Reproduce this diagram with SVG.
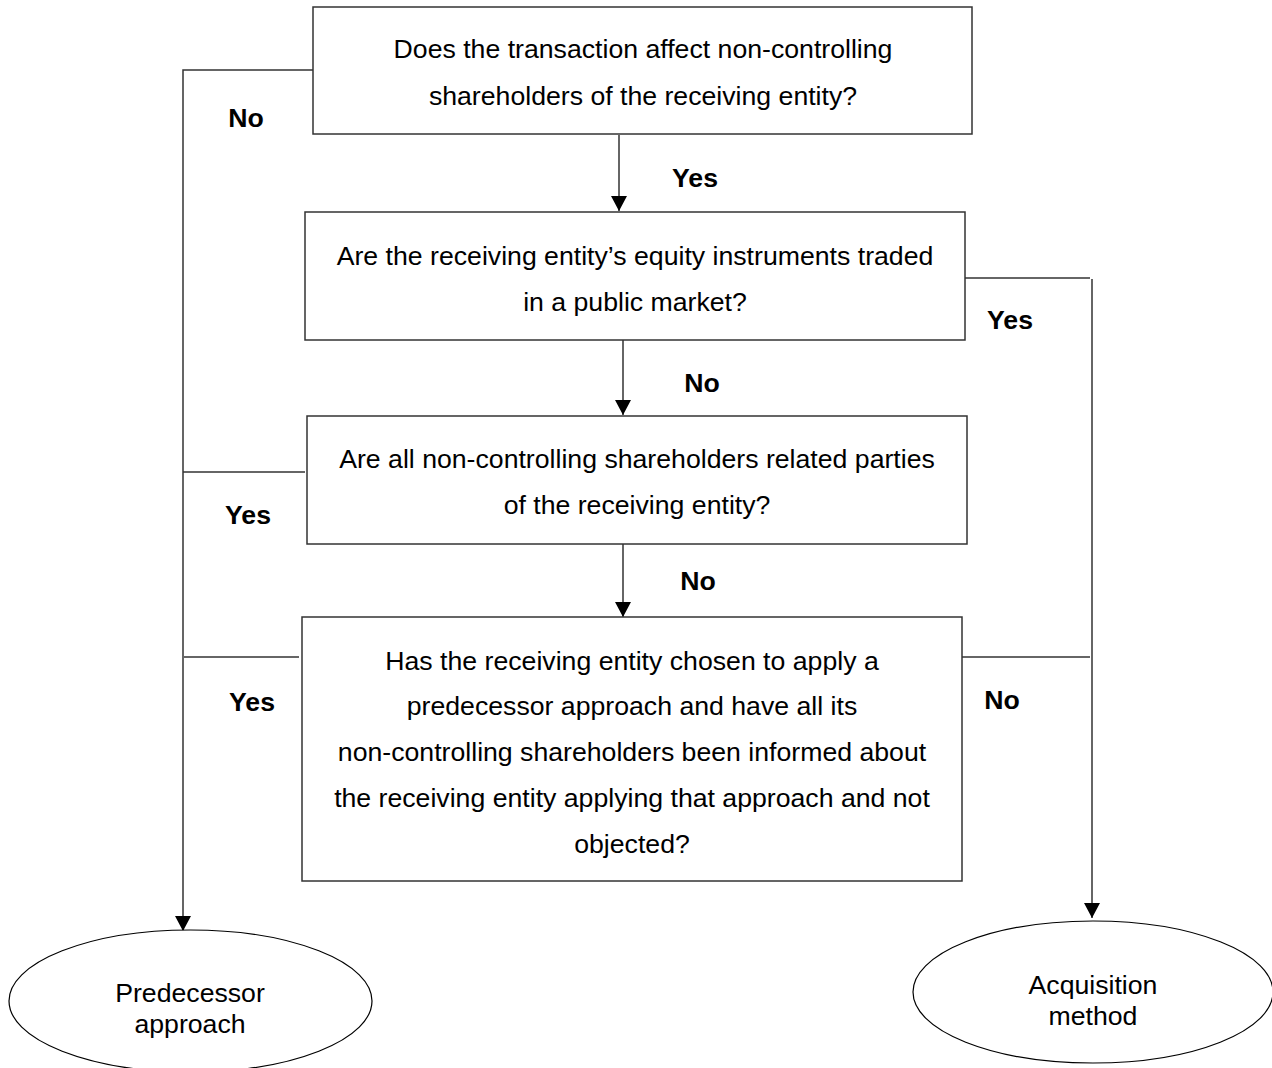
<svg xmlns="http://www.w3.org/2000/svg" width="1272" height="1068" viewBox="0 0 1272 1068">
<style>
.box{fill:#fff;stroke:#333;stroke-width:1.5}
.ell{fill:#fff;stroke:#000;stroke-width:1.2}
.ln{fill:none;stroke:#333;stroke-width:1.5}
.t{font-family:"Liberation Sans",Arial,sans-serif;font-size:26.67px;fill:#000;text-anchor:middle;dominant-baseline:central}
.l{font-family:"Liberation Sans",Arial,sans-serif;font-size:26.67px;font-weight:bold;fill:#000;text-anchor:middle;dominant-baseline:central}
</style>
<defs>
<marker id="ah" markerWidth="16" markerHeight="16" refX="15" refY="8" orient="auto" markerUnits="userSpaceOnUse">
<path d="M0,0 L15,8 L0,16 Z" fill="#000"/>
</marker>
</defs>
<g id="connectors">
<polyline class="ln" points="313,70 183,70 183,931" marker-end="url(#ah)"/>
<line class="ln" x1="305" y1="472" x2="183" y2="472"/>
<line class="ln" x1="299" y1="657" x2="184" y2="657"/>
<line class="ln" x1="619" y1="135" x2="619" y2="211" marker-end="url(#ah)"/>
<line class="ln" x1="623" y1="340" x2="623" y2="415" marker-end="url(#ah)"/>
<line class="ln" x1="623" y1="544" x2="623" y2="617" marker-end="url(#ah)"/>
<line class="ln" x1="965" y1="278" x2="1090" y2="278"/>
<line class="ln" x1="1092" y1="279" x2="1092" y2="918" marker-end="url(#ah)"/>
<line class="ln" x1="962" y1="657" x2="1090" y2="657"/>
<text class="l" x="246" y="118">No</text>
<text class="l" x="695" y="178">Yes</text>
<text class="l" x="1010" y="320">Yes</text>
<text class="l" x="702" y="383">No</text>
<text class="l" x="248" y="515">Yes</text>
<text class="l" x="698" y="581">No</text>
<text class="l" x="252" y="702">Yes</text>
<text class="l" x="1002" y="700">No</text>
</g>
<g id="q1">
<rect class="box" x="313" y="7" width="659" height="127"/>
<text class="t" x="643" y="49">Does the transaction affect non-controlling</text>
<text class="t" x="643" y="96">shareholders of the receiving entity?</text>
</g>
<g id="q2">
<rect class="box" x="305" y="212" width="660" height="128"/>
<text class="t" x="635" y="256">Are the receiving entity’s equity instruments traded</text>
<text class="t" x="635" y="302">in a public market?</text>
</g>
<g id="q3">
<rect class="box" x="307" y="416" width="660" height="128"/>
<text class="t" x="637" y="459">Are all non-controlling shareholders related parties</text>
<text class="t" x="637" y="505">of the receiving entity?</text>
</g>
<g id="q4">
<rect class="box" x="302" y="617" width="660" height="264"/>
<text class="t" x="632" y="661">Has the receiving entity chosen to apply a</text>
<text class="t" x="632" y="706">predecessor approach and have all its</text>
<text class="t" x="632" y="752">non-controlling shareholders been informed about</text>
<text class="t" x="632" y="798">the receiving entity applying that approach and not</text>
<text class="t" x="632" y="844">objected?</text>
</g>
<g id="predecessor">
<ellipse class="ell" cx="190.5" cy="1001" rx="181.5" ry="71"/>
<text class="t" x="190" y="993">Predecessor</text>
<text class="t" x="190" y="1024">approach</text>
</g>
<g id="acquisition">
<ellipse class="ell" cx="1093" cy="992" rx="180" ry="71"/>
<text class="t" x="1093" y="985">Acquisition</text>
<text class="t" x="1093" y="1016">method</text>
</g>
</svg>
